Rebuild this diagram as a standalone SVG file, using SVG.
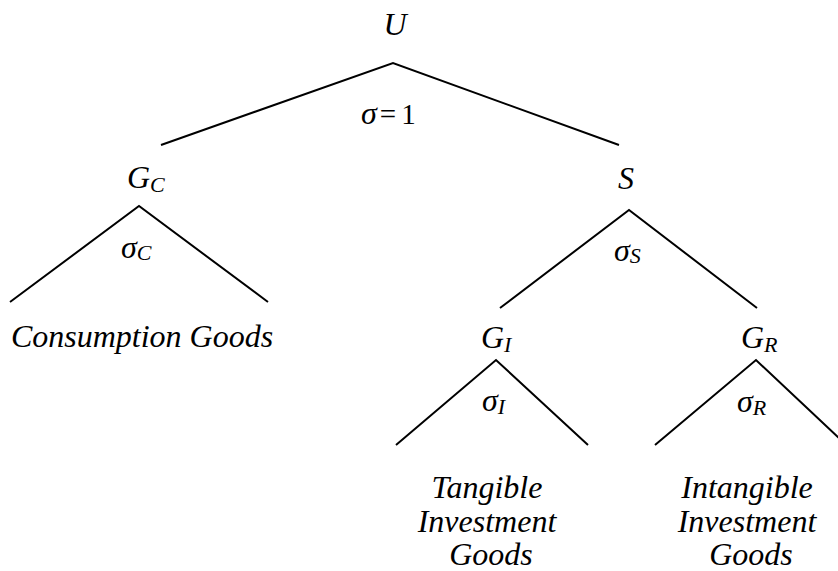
<svg xmlns="http://www.w3.org/2000/svg" width="838" height="571" viewBox="0 0 838 571">
  <rect width="838" height="571" fill="#fff"/>

  <!-- connectors: each nest is drawn as an inverted V -->
  <g id="connectors" stroke="#000" stroke-width="2" fill="none">
    <polyline points="161,145 393,63 619,145"/>
    <polyline points="10,302 139,206 268,302"/>
    <polyline points="500,308 629,210 757,308"/>
    <polyline points="396,445 496,360 588,445"/>
    <polyline points="655,445 756,360 842,441"/>
  </g>

  <g font-size="32" fill="#000">
    <g id="node-U">
      <text font-family="Liberation Serif" font-style="italic" x="395" y="35" text-anchor="middle">U</text>
      <text font-family="Liberation Serif" font-style="italic" x="361" y="124">σ<tspan font-style="normal" font-size="29" dx="3">=</tspan><tspan font-style="normal" font-size="29" dx="5">1</tspan></text>
    </g>

    <g id="node-GC">
      <text font-family="Liberation Serif" font-style="italic" x="127" y="188">G<tspan font-size="22" dy="4">C</tspan></text>
      <text font-family="Liberation Serif" font-style="italic" x="121" y="258">σ<tspan font-size="22" dy="2">C</tspan></text>
    </g>

    <g id="node-S">
      <text font-family="Liberation Serif" font-style="italic" x="626" y="189" text-anchor="middle">S</text>
      <text font-family="Liberation Serif" font-style="italic" x="614" y="261">σ<tspan font-size="22" dy="2">S</tspan></text>
    </g>

    <g id="node-consumption">
      <text font-family="Liberation Serif" font-style="italic" x="142" y="347" text-anchor="middle">Consumption Goods</text>
    </g>

    <g id="node-GI">
      <text font-family="Liberation Serif" font-style="italic" x="481" y="348">G<tspan font-size="22" dy="4">I</tspan></text>
      <text font-family="Liberation Serif" font-style="italic" x="482" y="411">σ<tspan font-size="22" dy="3">I</tspan></text>
    </g>

    <g id="node-GR">
      <text font-family="Liberation Serif" font-style="italic" x="741" y="348">G<tspan font-size="22" dy="4">R</tspan></text>
      <text font-family="Liberation Serif" font-style="italic" x="737" y="412">σ<tspan font-size="22" dy="3">R</tspan></text>
    </g>

    <g id="node-tangible">
      <text font-family="Liberation Serif" font-style="italic" text-anchor="middle">
        <tspan x="491" y="498">Tangible</tspan>
        <tspan x="491" y="532">Investment</tspan>
        <tspan x="491" y="565">Goods</tspan>
      </text>
    </g>

    <g id="node-intangible">
      <text font-family="Liberation Serif" font-style="italic" text-anchor="middle">
        <tspan x="751" y="498">Intangible</tspan>
        <tspan x="751" y="532">Investment</tspan>
        <tspan x="751" y="565">Goods</tspan>
      </text>
    </g>
  </g>
</svg>
